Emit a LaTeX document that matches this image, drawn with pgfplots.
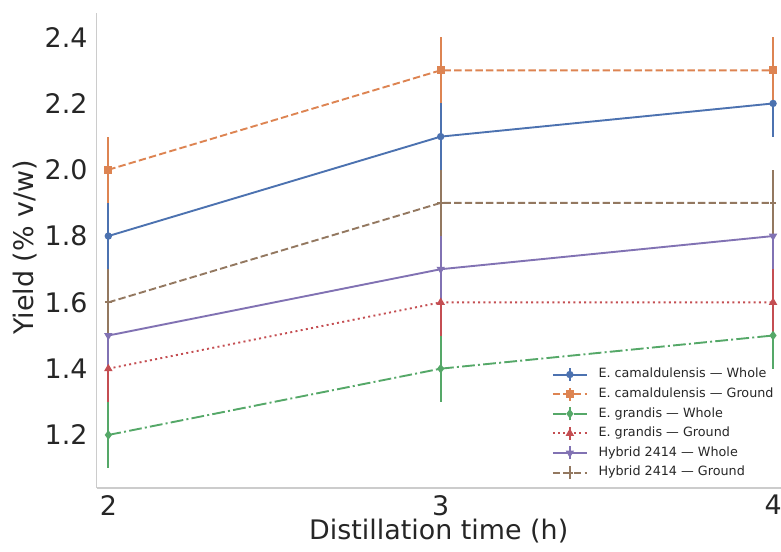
\documentclass[border=0pt]{standalone}
\usepackage{pgfplots}
\pgfplotsset{compat=1.18}
\usepackage{fontspec}
\setmainfont{DejaVu Sans}
\definecolor{cblue}{HTML}{4C72B0}
\definecolor{corange}{HTML}{DD8452}
\definecolor{cgreen}{HTML}{55A868}
\definecolor{cred}{HTML}{C44E52}
\definecolor{cpurple}{HTML}{8172B3}
\definecolor{cbrown}{HTML}{937860}
\definecolor{spine}{HTML}{CCCCCC}
\definecolor{labelgray}{HTML}{262626}
\begin{document}
\begin{tikzpicture}
\begin{axis}[
  scale only axis, width=684bp, height=474.7bp,
  xmin=1.965, xmax=4.023, ymin=1.04, ymax=2.472,
  axis x line*=bottom, axis y line*=left,
  axis line style={draw=spine, line width=1.5bp, -},
  xtick={2,3,4}, ytick={1.2,1.4,1.6,1.8,2.0,2.2,2.4},
  major tick length=0pt,
  /pgf/number format/assume math mode=true,
  tick label style={font=\fontsize{27}{32}\selectfont, text=labelgray, inner sep=0pt},
  xticklabel style={yshift=-7bp},
  yticklabel style={xshift=-9bp, /pgf/number format/.cd, fixed, fixed zerofill, precision=1},
  xlabel={Distillation time (h)}, ylabel={Yield (\% v/w)},
  label style={font=\fontsize{27}{32}\selectfont, text=labelgray, inner sep=0pt},
  xlabel style={at={(axis description cs:0.5,-0.1095)}, anchor=base},
  ylabel style={at={(axis description cs:-0.0927,0.5066)}, anchor=base},
  legend cell align=left,
  legend style={draw=none, fill=none, at={(axis description cs:0.6652,0.2551)}, anchor=north west,
    inner sep=0pt, font=\fontsize{12.8}{15}\selectfont, text=labelgray, row sep=4.7bp,
    column sep=10.7bp,
    nodes={inner sep=0pt, text height=9.5bp, text depth=3bp}},
  legend image code/.code={
    \draw[#1, solid, mark=none] (17bp,-6.5bp) -- (17bp,6.5bp);
    \draw[mark repeat=2, mark phase=2, #1] plot coordinates {(0bp,0bp) (17bp,0bp) (34bp,0bp)};
  },
  every axis plot/.append style={line width=1.9bp},
]
\addplot[cblue, solid, mark=*, mark size=2.7bp, mark options={solid},
  error bars/.cd, y dir=both, y explicit, error mark=none, error bar style={solid, line width=1.9bp}]
  coordinates {(2,1.8) +- (0,0.1) (3,2.1) +- (0,0.1) (4,2.2) +- (0,0.1)};
\addlegendentry{E. camaldulensis — Whole}
\addplot[corange, dash pattern=on 7.4bp off 3.2bp, mark=square*, mark size=3bp, mark options={solid},
  error bars/.cd, y dir=both, y explicit, error mark=none, error bar style={solid, line width=1.9bp}]
  coordinates {(2,2.0) +- (0,0.1) (3,2.3) +- (0,0.1) (4,2.3) +- (0,0.1)};
\addlegendentry{E. camaldulensis — Ground}
\addplot[cgreen, dash pattern=on 12.8bp off 3.2bp on 2bp off 3.2bp, mark=diamond*, mark size=3.2bp, mark options={solid},
  error bars/.cd, y dir=both, y explicit, error mark=none, error bar style={solid, line width=1.9bp}]
  coordinates {(2,1.2) +- (0,0.1) (3,1.4) +- (0,0.1) (4,1.5) +- (0,0.1)};
\addlegendentry{E. grandis — Whole}
\addplot[cred, dash pattern=on 2bp off 3.3bp, mark=triangle*, mark size=3bp, mark options={solid},
  error bars/.cd, y dir=both, y explicit, error mark=none, error bar style={solid, line width=1.9bp}]
  coordinates {(2,1.4) +- (0,0.1) (3,1.6) +- (0,0.1) (4,1.6) +- (0,0.1)};
\addlegendentry{E. grandis — Ground}
\addplot[cpurple, solid, mark=triangle*, mark size=3bp, mark options={solid, rotate=180},
  error bars/.cd, y dir=both, y explicit, error mark=none, error bar style={solid, line width=1.9bp}]
  coordinates {(2,1.5) +- (0,0.1) (3,1.7) +- (0,0.1) (4,1.8) +- (0,0.1)};
\addlegendentry{Hybrid 2414 — Whole}
\addplot[cbrown, dash pattern=on 7.4bp off 3.2bp, mark=+, mark size=3.2bp, mark options={solid, line width=2bp},
  error bars/.cd, y dir=both, y explicit, error mark=none, error bar style={solid, line width=1.9bp}]
  coordinates {(2,1.6) +- (0,0.1) (3,1.9) +- (0,0.1) (4,1.9) +- (0,0.1)};
\addlegendentry{Hybrid 2414 — Ground}
\end{axis}
\pgfresetboundingbox
\path[use as bounding box] (current axis.south west) ++(-96.7bp,-64bp) rectangle ++(781bp,552bp);
\end{tikzpicture}
\end{document}
